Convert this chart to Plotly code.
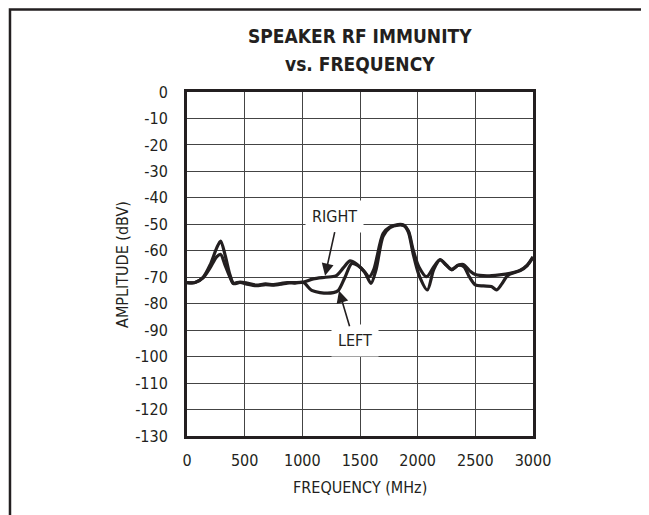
import plotly.graph_objects as go

# frequency (MHz) / amplitude (dBV)
freq_right = [0, 70, 140, 200, 257, 292, 330, 373, 402, 460, 520, 600, 680, 750, 820, 870, 940, 1010,
              1095, 1200, 1290, 1355, 1413, 1470, 1530, 1580, 1620, 1700, 1760, 1830, 1880, 1920, 1960,
              2010, 2078, 2140, 2194, 2250, 2295, 2350, 2396, 2450, 2500, 2600, 2710, 2800, 2890, 2950, 3000]
amp_right = [-72, -72, -70, -65.4, -59, -56.3, -61.6, -69.2, -72.2, -71.8, -72.2, -73, -72.5, -72.8, -72.3, -72, -72, -71.8,
             -70.6, -70, -69.5, -66.5, -63.8, -65, -67.5, -69.8, -67, -53.5, -51, -50.1, -50.3, -52.5, -59.5,
             -66, -69.8, -66, -63.3, -65.5, -67, -65.5, -65.2, -67.5, -69, -69.5, -69.1, -68.5, -67.3, -65.4, -62.3]

freq_left = [0, 70, 140, 200, 257, 292, 330, 373, 402, 460, 520, 600, 680, 750, 820, 870, 940, 1010,
             1081, 1153, 1269, 1312, 1370, 1428, 1480, 1540, 1595, 1640, 1700, 1760, 1830, 1880, 1920, 1960,
             2010, 2084, 2140, 2194, 2250, 2295, 2350, 2400, 2450, 2500, 2570, 2640, 2685, 2730, 2771, 2800,
             2890, 2950, 3000]
amp_left = [-72, -72, -70.2, -66.5, -62.3, -61.4, -65.4, -70, -72.4, -72, -72.6, -73.2, -72.8, -73, -72.6, -72.2, -72.2, -72,
            -75, -75.8, -75.8, -75, -70, -64.8, -65.5, -68, -72.3, -67, -54.5, -51.3, -50.3, -50.5, -53, -61,
            -69, -74.8, -67, -63.5, -65.5, -67.2, -65.5, -66, -70, -72.9, -73.3, -73.5, -74.8, -72.5, -69.8, -68.8,
            -67.5, -65.6, -62.5]

x_ticks = [0, 500, 1000, 1500, 2000, 2500, 3000]
y_ticks = list(range(0, -131, -10))
y_ticktext = [str(v) for v in y_ticks]  # plain hyphen, like the original

INK = "#231f20"
FONT = "DejaVu Sans Condensed, Liberation Sans, sans-serif"

fig = go.Figure()
for fx, fy, nm in [(freq_left, amp_left, "LEFT"), (freq_right, amp_right, "RIGHT")]:
    fig.add_trace(go.Scatter(x=fx, y=fy, mode="lines", name=nm,
                             line=dict(color=INK, width=3.2, shape="spline", smoothing=0.8)))

# page body adds an 8px margin, so the figure is 8px smaller than the window
fig.update_layout(
    width=641, height=507,
    margin=dict(l=179, r=116, t=84, b=79, autoexpand=False),
    plot_bgcolor="#FFFFFF", paper_bgcolor="#FFFFFF",
    font=dict(family=FONT, size=16, color=INK),
    showlegend=False,
    xaxis=dict(range=[0, 3000], tickvals=x_ticks, showgrid=True, gridcolor="#444", gridwidth=1,
               showline=True, linecolor=INK, linewidth=3, mirror=True, zeroline=False,
               ticks="", ticklabelstandoff=8, automargin=False),
    yaxis=dict(range=[-130, 0], tickvals=y_ticks, ticktext=y_ticktext, showgrid=True,
               gridcolor="#444", gridwidth=1,
               showline=True, linecolor=INK, linewidth=3, mirror=True, zeroline=False,
               ticks="", ticklabelstandoff=13, automargin=False),
)

# title and axis titles
for txt, yy in [("<b>SPEAKER RF IMMUNITY</b>", 1.1628), ("<b>vs. FREQUENCY</b>", 1.080)]:
    fig.add_annotation(x=0.5, y=yy, xref="paper", yref="paper", text=txt, showarrow=False,
                       xanchor="center", yanchor="middle", font=dict(size=19, color=INK))
fig.add_annotation(x=0.5, y=-0.1497, xref="paper", yref="paper", text="FREQUENCY (MHz)",
                   showarrow=False, xanchor="center", yanchor="middle", font=dict(size=16, color=INK))
fig.add_annotation(x=-0.188, y=0.5, xref="paper", yref="paper", text="AMPLITUDE (dBV)",
                   showarrow=False, xanchor="center", yanchor="middle", textangle=-90,
                   font=dict(size=16, color=INK))

# labels with white boxes, and their arrows
fig.add_annotation(x=1283, y=-47, text="RIGHT", showarrow=False, bgcolor="#FFFFFF",
                   xanchor="center", yanchor="middle", borderpad=6, font=dict(size=16, color=INK))
fig.add_annotation(x=1457, y=-94, text="LEFT", showarrow=False, bgcolor="#FFFFFF",
                   xanchor="center", yanchor="middle", borderpad=6, font=dict(size=16, color=INK))
fig.add_annotation(x=1197, y=-69.4, text="", showarrow=True, ax=10, ay=-45,
                   arrowhead=2, arrowsize=1.5, arrowwidth=1.6, arrowcolor=INK)
fig.add_annotation(x=1318, y=-75.1, text="", showarrow=True, ax=11, ay=37,
                   arrowhead=2, arrowsize=1.5, arrowwidth=1.6, arrowcolor=INK)

# outer frame of the figure (top edge sits at the figure's top, bottom runs off the page)
fig.add_shape(type="rect", xref="paper", yref="paper", x0=-0.5116, x1=1.3266, y0=-0.25, y1=1.2398,
              line=dict(color=INK, width=2.5), layer="above")

fig.write_html("out.html")
